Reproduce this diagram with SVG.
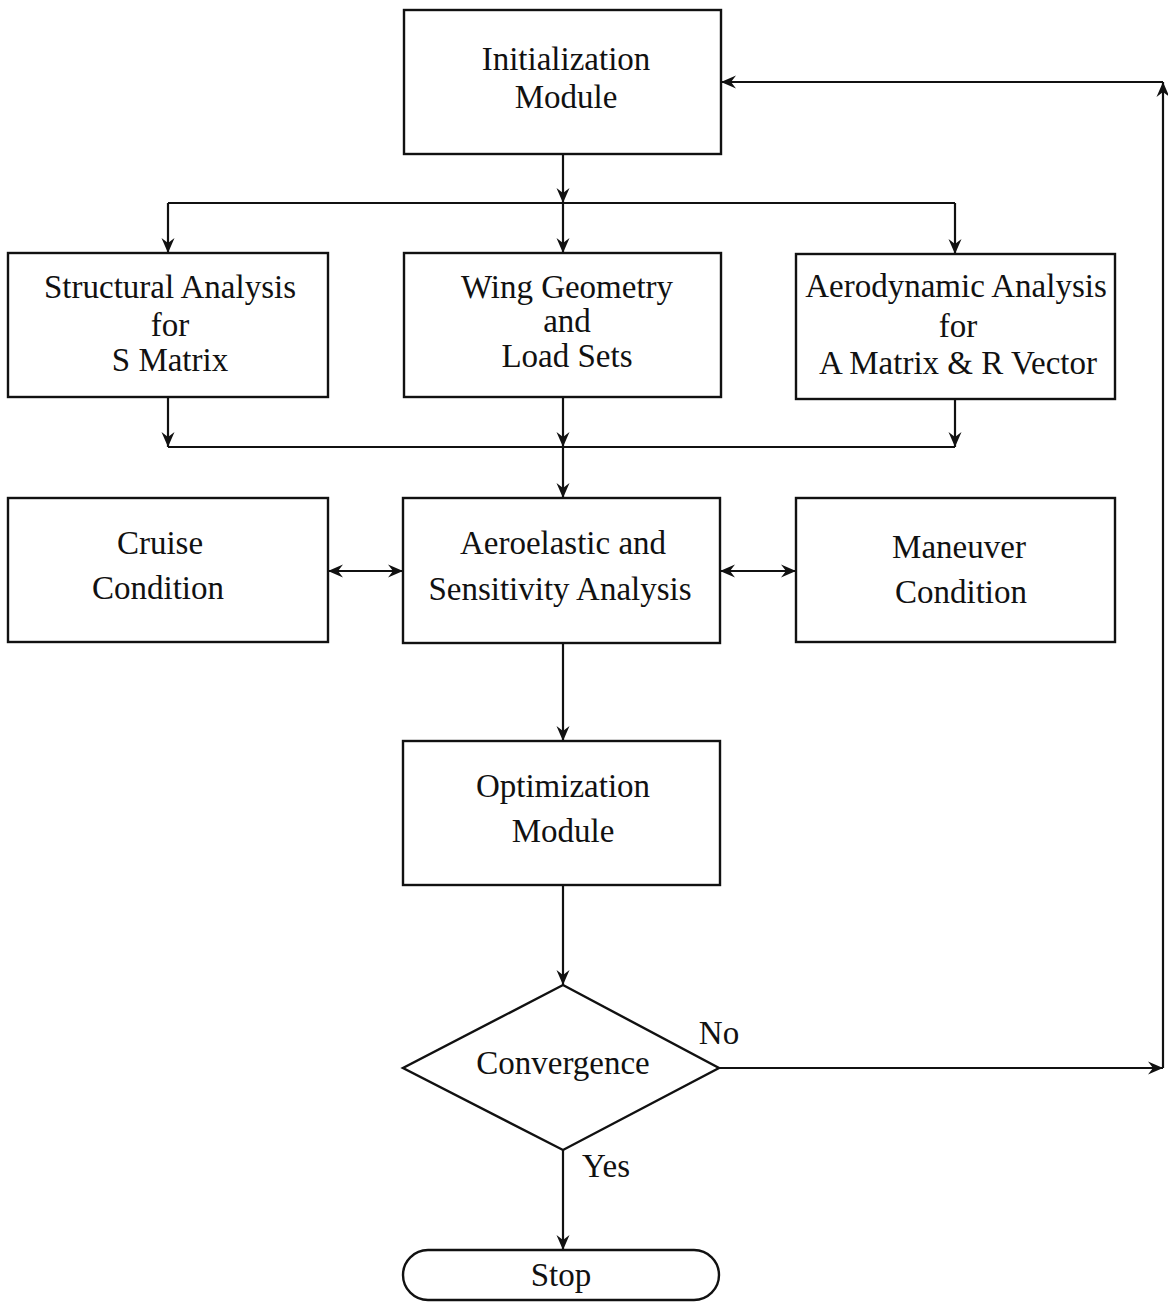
<svg xmlns="http://www.w3.org/2000/svg" width="1168" height="1302" viewBox="0 0 1168 1302">
<style>
.box{fill:#fff;stroke:#111;stroke-width:2.4}
.t{font-family:"Liberation Serif","Times New Roman",serif;font-size:33px;fill:#111;text-anchor:middle}
.c{fill:none;stroke:#111;stroke-width:2.2}
</style>
<defs>
<marker id="ah" markerWidth="16" markerHeight="14" refX="15" refY="7" orient="auto-start-reverse" markerUnits="userSpaceOnUse">
<path d="M0,0.5 L15,7 L0,13.5 L5,7 Z" fill="#111"/>
</marker>
</defs>
<rect width="1168" height="1302" fill="#fff"/>
<g id="connectors">
<line class="c" x1="563" y1="154" x2="563" y2="203" marker-end="url(#ah)"/>
<line class="c" x1="168" y1="203" x2="955" y2="203"/>
<line class="c" x1="168" y1="203" x2="168" y2="253" marker-end="url(#ah)"/>
<line class="c" x1="563" y1="203" x2="563" y2="253" marker-end="url(#ah)"/>
<line class="c" x1="955" y1="203" x2="955" y2="254" marker-end="url(#ah)"/>
<line class="c" x1="168" y1="397" x2="168" y2="447" marker-end="url(#ah)"/>
<line class="c" x1="563" y1="397" x2="563" y2="447" marker-end="url(#ah)"/>
<line class="c" x1="955" y1="399" x2="955" y2="447" marker-end="url(#ah)"/>
<line class="c" x1="168" y1="447" x2="955" y2="447"/>
<line class="c" x1="563" y1="447" x2="563" y2="498" marker-end="url(#ah)"/>
<line class="c" x1="328" y1="571" x2="403" y2="571" marker-start="url(#ah)" marker-end="url(#ah)"/>
<line class="c" x1="720" y1="571" x2="796" y2="571" marker-start="url(#ah)" marker-end="url(#ah)"/>
<line class="c" x1="563" y1="643" x2="563" y2="741" marker-end="url(#ah)"/>
<line class="c" x1="563" y1="885" x2="563" y2="985" marker-end="url(#ah)"/>
<line class="c" x1="719" y1="1068" x2="1163" y2="1068" marker-end="url(#ah)"/>
<line class="c" x1="1163" y1="1068" x2="1163" y2="82" marker-end="url(#ah)"/>
<line class="c" x1="1163" y1="82" x2="721" y2="82" marker-end="url(#ah)"/>
<line class="c" x1="563" y1="1150" x2="563" y2="1250" marker-end="url(#ah)"/>
</g>
<g id="init">
<rect class="box" x="404" y="10" width="317" height="144"/>
<text class="t" x="566" y="70">Initialization</text>
<text class="t" x="566" y="108">Module</text>
</g>
<g id="structural">
<rect class="box" x="8" y="253" width="320" height="144"/>
<text class="t" x="170" y="298">Structural Analysis</text>
<text class="t" x="170" y="336">for</text>
<text class="t" x="170" y="371">S Matrix</text>
</g>
<g id="wing">
<rect class="box" x="404" y="253" width="317" height="144"/>
<text class="t" x="567" y="298">Wing Geometry</text>
<text class="t" x="567" y="332">and</text>
<text class="t" x="567" y="367">Load Sets</text>
</g>
<g id="aerodynamic">
<rect class="box" x="796" y="254" width="319" height="145"/>
<text class="t" x="956" y="297">Aerodynamic Analysis</text>
<text class="t" x="958" y="337">for</text>
<text class="t" x="958" y="374">A Matrix &amp; R Vector</text>
</g>
<g id="cruise">
<rect class="box" x="8" y="498" width="320" height="144"/>
<text class="t" x="160" y="554">Cruise</text>
<text class="t" x="158" y="599">Condition</text>
</g>
<g id="aeroelastic">
<rect class="box" x="403" y="498" width="317" height="145"/>
<text class="t" x="563" y="554">Aeroelastic and</text>
<text class="t" x="560" y="600">Sensitivity Analysis</text>
</g>
<g id="maneuver">
<rect class="box" x="796" y="498" width="319" height="144"/>
<text class="t" x="959" y="558">Maneuver</text>
<text class="t" x="961" y="603">Condition</text>
</g>
<g id="optimization">
<rect class="box" x="403" y="741" width="317" height="144"/>
<text class="t" x="563" y="797">Optimization</text>
<text class="t" x="563" y="842">Module</text>
</g>
<g id="convergence">
<polygon class="box" points="563,985 719,1068 563,1150 403,1068"/>
<text class="t" x="563" y="1074">Convergence</text>
</g>
<g id="labels">
<text class="t" x="719" y="1044">No</text>
<text class="t" x="606" y="1177">Yes</text>
</g>
<g id="stop">
<rect class="box" x="403" y="1250" width="316" height="50" rx="25" ry="25"/>
<text class="t" x="561" y="1286">Stop</text>
</g>
</svg>
